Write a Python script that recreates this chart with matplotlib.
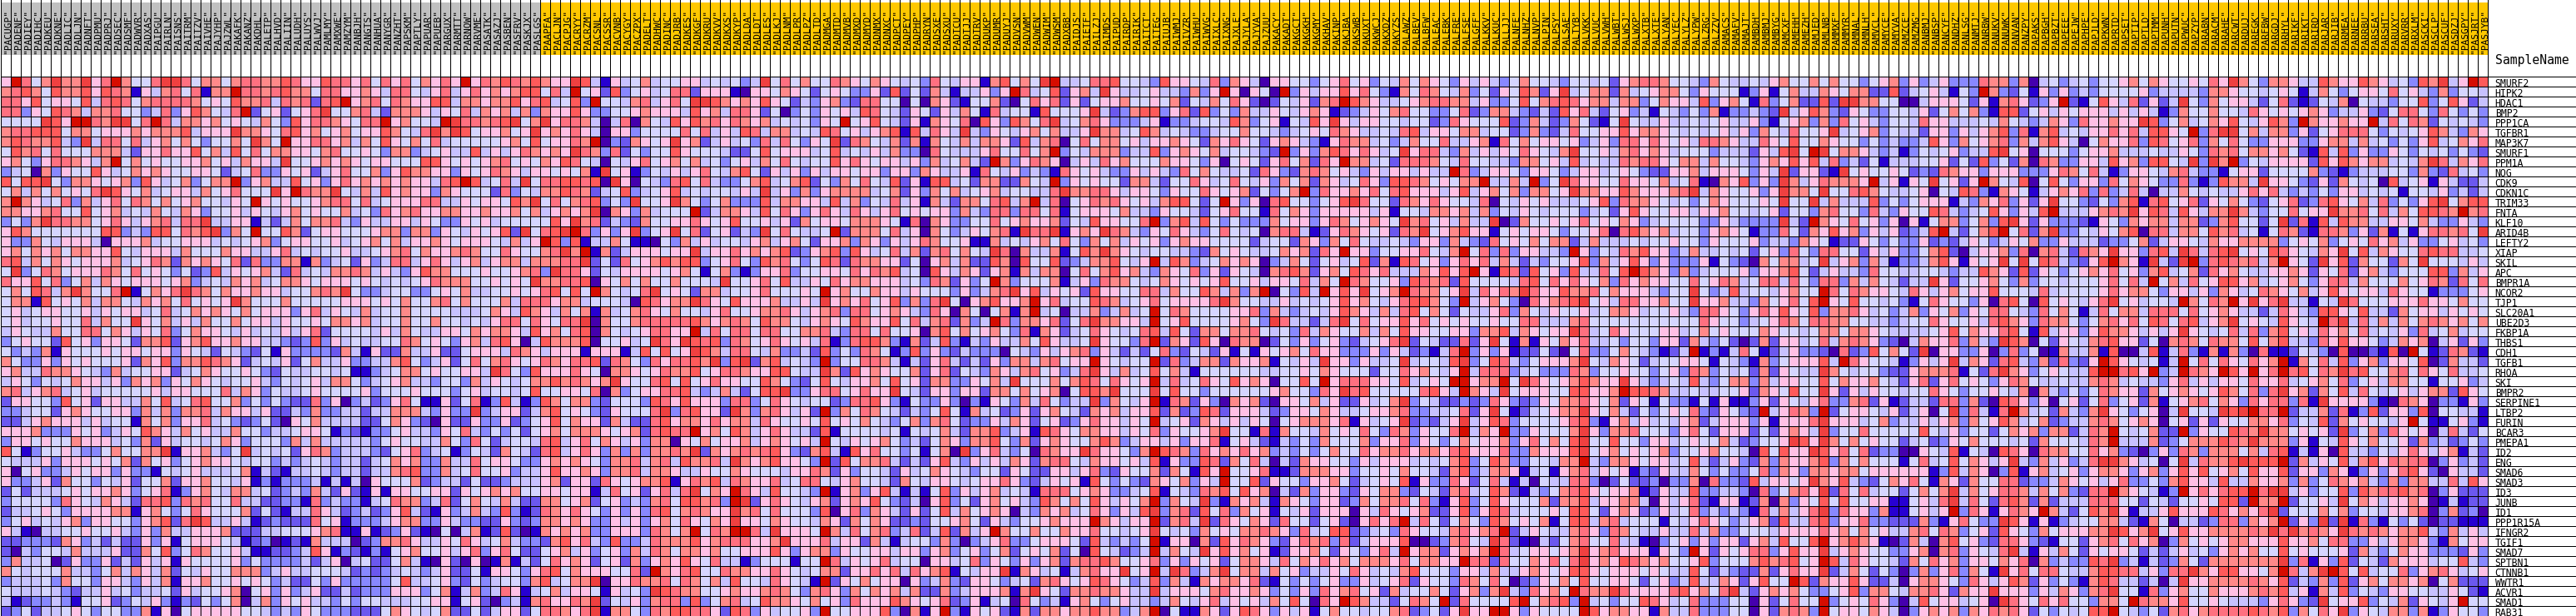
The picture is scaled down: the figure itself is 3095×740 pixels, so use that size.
import matplotlib
matplotlib.use("Agg")
import matplotlib.pyplot as plt
from matplotlib.colors import ListedColormap, BoundaryNorm
import numpy as np

# Sample names, left to right (first 54 are the grey class, the rest orange)
SAMPLES = """PACUGP PADENF PADIEY PADIHC PADKEU PADKNE PADLIC PADLJN PADNFT PADPMU PADPRJ PADSEC PADSMF PADWVR
PADXAS PAIPGU PAIRLN PAISNS PAITRM PAITZV PAIVHE PAJYHP PAJZWL PAKAFK PAKANZ PAKDHL PALETP PALHVD PALIIN PALUDH
PALUYS PALWVJ PAMLMY PAMXWE PAMZYM PANBJH PANGTS PANHUA PANYGR PANZHT PAPSKM PAPTLY PAPUAR PAPUEB PARGUX PARMTT
PARNOW PARVME PASATK PASAZJ PASBEN PASFRV PASKJX PASLGS PAAPFA PACLJN PACPJG PACRYY PACRZM PACSNL PACSSR PACVNB
PACYGY PACZPX PADELT PADHWC PADINC PADJRB PADKES PADKGF PADKRU PADKVV PADKXS PADKYP PADLDA PADLDT PADLES PADLKJ
PADLNM PADLPR PADLPZ PADLTD PADMGA PADMTD PADMVB PADMXD PADMYD PADNMX PADNXC PADPCT PADPEY PADPHP PADRYN PADSXE
PADSXU PADTCU PADTJJ PADTRV PADUKP PADUMR PADUYJ PADVSN PADVWM PADWEN PADWIM PADWSM PADXBB PAIDJS PAIETF PAILZJ
PAIMDS PAIPUD PAIRDP PAIRIK PAITCT PAITEG PAIUJB PAIWMJ PAIVZR PAIWHU PAIWVG PAIXLC PAIXNG PAJXLE PAJYLA PAJYVA
PAJZUU PAKACY PAKADT PAKGCT PAKGKH PAKGMY PAKHAV PAKINP PAKJBA PAKSWB PAKUXT PAKWCJ PAKXDZ PAKYZS PALAWZ PALBEV
PALBFW PALEAC PALEBK PALFRE PALFSE PALGFF PALKKV PALKUC PALLJJ PALNFE PALNHZ PALNVP PALPIN PALPSY PALSAE PALTYB
PALVKK PALVUC PALVWH PALWBT PALWSJ PALWXP PALXTB PALXTE PALYAN PALYEC PALYLZ PALYPW PALZRG PALZZV PAMACS PAMAFV
PAMAJT PAMBDH PAMBMJ PAMBYG PAMCXF PAMEHH PAMEZH PAMJED PAMLNB PAMMXF PAMMYR PAMNAL PAMNLH PAMVCL PAMYCE PAMYVA
PAMZCE PAMZMG PANBMJ PANBSP PANCYF PANDHZ PANLSG PANMTJ PANRBW PANUKV PANUWK PANVAN PANZPY PAPAKS PAPBGH PAPBZT
PAPEEE PAPEJW PAPHPE PAPJLD PAPKWN PAPRTD PAPSET PAPTIP PAPTLD PAPTMM PAPUNH PAPUTN PAPWUC PAPZYP PARABN PARACM
PARAHE PARCWT PARDUJ PAREGK PARFBW PARGDJ PARHYL PARIKF PARIKT PARIRD PARJAR PARJIB PARMEA PARNEE PARRBU PARSEA
PARSHT PARUXY PARVRR PARXLM PASCKI PASCLP PASCUF PASDZJ PASGPY PASJRT PASJYB""".split()
N_GREY = 54

GENES = """SMURF2 HIPK2 HDAC1 BMP2 PPP1CA TGFBR1 MAP3K7 SMURF1 PPM1A NOG CDK9 CDKN1C TRIM33 FNTA KLF10 ARID4B LEFTY2
XIAP SKIL APC BMPR1A NCOR2 TJP1 SLC20A1 UBE2D3 FKBP1A THBS1 CDH1 TGFB1 RHOA SKI BMPR2 SERPINE1 LTBP2 FURIN BCAR3
PMEPA1 ID2 ENG SMAD6 SMAD3 ID3 JUNB ID1 PPP1R15A IFNGR2 TGIF1 SMAD7 SPTBN1 CTNNB1 WWTR1 ACVR1 SMAD1 RAB31""".split()

# Colour classes, deep blue (0) to deep red (b)
LEVEL_COLORS = ["#4500AD", "#2700D1", "#6B58EF", "#8888FF", "#C7C1FF", "#D5D5FF",
                "#FFC0E5", "#FF8989", "#FF7080", "#FF5A5A", "#EF4040", "#D60C00"]

# Cell classes, estimated by eye from zoomed crops: one line per gene,
# one block per stretch of columns (widths in BLOCK_WIDTHS)
BLOCK_WIDTHS = [33, 34, 33, 34, 33, 33, 33, 16]

CELLS_A = """6b857a77a68b7558aa857757887798669
78975977969871647858177b887897758
886956659489857888875659778487828
88365987477855348369754 8b2562568a
5555a96bb87aa58b847767565475 39688
788999577566676777946 66a776589675
79877943a48858467575355 75a75b6688
597858555777426686695749585776657
675368876 47b57565566756 47664a5567
345073655964576765566524 583365624
9599a5377656739645735 77b367449563
574757565 8a96574566475685 55a6b877
7b7645837468587575675546 5b6565567
776678559567454754763556 465467565
3537a8877568646784 88a446614247577
69755555559934399587 9a375b5597256
6337546664066674556 6645456735 6655
675767577669546664755 5766446 84545
89475765666745687276 7658283377173
5a358756668758565352 39465674284 54
8669583574765666567 345476745 77656
57598 47a7558b15768a87576676645578
5771956574775476758565 6a755575555
564566556465664584 5767657566636 84
56455655847 55a657464755 7566465565
46544755885764658357665 4645464682
3565529563665277926796676644 32393
53437165556566566365 425432516 3333
753363656555627693779 876245462574
674487765437455662457 6556532544 55
46535457664637673657654 5564354564
784678456455555646655 584763544565
266553956266447594589 5573535322 83
334552676556637473778 47664622 4373
224676664645517573668 4532352065 74
666733365634659764756 4475534456 65
36656557666453726455 457635553 7474
95135564335755 77a1667435a45452687
5444636665657275635676 6545534 3454
605633465663633154564 445714214454
63346275535462557266 755461313 3341
252444565667635681367 5477452343 74
35555386547642889387 855844223 3183
2445653666677167535865 557252144 86
3564546736655367928a9446 412322285
641044556556436374466 6722244 55567
22333276342422636156 66541230121 74
204355474446227593587 55641122 3496
37445026336242646165 555635333 3424
7545557443574764725465 5777346 4455
3444537553664364716 675565653422 53
54445432446453445264 55670563634 62
41233431556235463132 535704736 5644
235244565355337160566 6665543 43653""".split("\n")

CELLS_B = """8868586857686b68798797 66a94 1 64 5 7 4 5
86676 4885 46846867 67 99 5 8 4 b 5 6 2 9 3 5 6 4 5
9b67 8587 66 99 47767 79 68 9 4 5 9 3 b 5 5 4 7 8 4 6
5578 4 2 7 7 7 6 4 6 5 8 4 7 6 7 4 7 3 7 6 6 9 6 3 3 5 5 6 7 6 6
7 6 5 8 8 b 6 7 5 5 4 b a 8 8 7 8 9 a 5 7 a 6 8 8 7 4 0 4 8 0 7 5 4
6 7 5 6 6 9 7 5 4 8 a 7 a 9 5 6 6 7 5 6 a 6 7 6 8 6 4 0 6 6 3 5 5 5
6 7 4 7 5 9 6 5 7 5 8 4 5 5 5 5 5 6 7 5 9 5 6 6 8 7 b 0 3 2 7 6 5 6
8 5 5 6 5 3 7 7 3 4 5 6 4 4 9 4 6 4 6 8 7 6 7 6 a 8 7 3 8 2 5 3 5 5
6 7 6 5 6 6 5 5 5 9 9 6 5 6 5 6 7 8 5 6 5 7 6 9 8 5 4 0 5 4 6 8 5 6
6 8 5 5 7 3 6 9 7 7 6 6 3 6 5 6 8 7 6 4 6 6 5 6 5 7 1 a 5 6 1 3 5 4
6 8 6 7 6 7 6 7 6 6 4 8 9 b 9 4 5 8 4 a 5 8 8 9 9 8 9 0 a 6 0 5 4 3
a 5 4 7 4 9 6 7 6 6 3 7 6 5 5 5 2 8 3 5 4 7 7 9 8 7 2 4 5 9 3 4 5 6
8 8 5 8 4 5 6 6 6 8 8 4 4 6 5 6 6 5 9 7 a 5 8 5 7 8 9 3 5 3 a 5 5 6
5 7 4 5 3 8 6 7 8 6 6 7 7 6 6 7 6 6 7 5 7 4 6 7 6 7 a 0 7 6 3 7 4 5
8 4 3 6 4 4 6 6 4 6 5 3 3 6 5 6 4 5 5 5 5 5 9 6 a 7 8 2 4 3 2 7 5 5
6 5 5 5 6 7 7 3 7 7 3 6 5 4 6 5 6 9 2 a 5 8 9 a b 8 3 6 3 6 a 3 5 6
6 4 5 6 7 5 7 4 6 6 7 6 5 6 6 6 5 4 7 4 6 b 9 3 9 1 4 4 7 5 1 1 0 5
5 6 4 4 5 6 7 8 5 7 6 6 7 8 7 5 5 8 6 5 5 7 8 a 7 b 1 7 2 4 6 6 6 5
4 5 2 6 3 4 8 8 4 6 8 6 4 6 7 4 6 7 7 4 7 7 7 8 8 a 2 5 2 8 5 6 7 9
7 7 8 7 4 6 4 3 6 9 7 7 5 5 5 6 5 5 6 7 8 3 a 8 8 6 2 5 4 6 6 6 6 5
6 6 5 6 5 4 5 4 5 6 8 7 7 7 5 5 6 5 6 5 a 7 7 8 8 9 0 6 5 7 5 7 5 5
7 a 5 3 3 4 5 5 3 3 5 6 5 7 4 4 5 5 6 5 6 8 9 5 9 5 b 7 5 4 5 8 a 5
5 6 6 6 5 6 5 7 5 5 7 8 5 7 5 5 5 7 4 8 8 8 6 7 7 4 5 5 5 4 0 9 8 6
6 5 4 7 4 5 5 7 5 5 5 5 4 4 4 5 7 6 4 9 7 6 4 7 5 7 1 7 4 5 7 8 6 5
7 7 6 7 4 5 5 7 5 5 7 5 5 4 5 4 6 8 8 5 8 6 5 8 8 a 0 7 5 5 7 8 8 8
5 5 5 5 4 6 4 7 5 4 4 6 6 5 7 6 7 7 6 4 9 6 7 5 8 9 0 7 5 4 5 6 8 8
6 4 5 4 4 5 5 8 7 5 6 5 3 6 7 4 8 9 6 0 4 9 7 7 7 9 0 5 5 6 4 5 a 8
2 7 4 1 6 2 2 7 4 4 6 2 2 5 6 6 6 4 8 7 6 4 6 6 6 1 6 6 6 1 4 9 5 9
4 6 3 3 4 4 7 9 5 3 4 6 2 5 8 5 7 8 6 5 6 8 7 6 8 8 9 2 8 7 5 3 8 6
4 5 1 1 3 4 5 7 7 5 6 5 5 6 6 4 a 8 5 3 9 6 6 6 8 6 5 0 7 7 6 5 6 8
7 7 5 3 4 5 6 7 4 4 3 5 5 3 7 4 6 5 4 5 7 7 9 7 8 7 6 7 a 6 5 5 8 9
5 5 5 6 3 5 5 5 6 5 5 5 3 5 6 4 5 5 4 5 9 5 5 6 6 5 8 0 7 3 5 6 6 8
6 0 3 4 2 3 6 8 5 1 1 6 2 5 8 1 3 9 4 1 3 9 7 5 7 7 3 2 5 5 5 3 9 8
3 4 4 2 4 4 7 7 7 4 3 6 3 3 a 3 4 6 6 2 4 7 9 5 6 5 3 2 6 5 5 5 8 a
4 4 4 2 2 5 7 6 3 2 0 6 2 2 6 3 3 6 2 3 5 6 9 5 7 6 6 2 7 4 2 2 8 9
1 3 2 1 3 3 5 6 4 4 3 6 5 8 4 3 5 3 5 2 5 6 7 5 7 7 7 6 5 6 7 2 8 9
4 4 4 4 3 5 6 5 5 4 4 7 5 3 8 5 2 4 5 5 4 8 9 4 6 8 5 7 6 4 6 3 7 7
3 4 4 4 3 2 5 6 8 3 4 5 1 3 5 4 2 7 5 4 2 8 9 4 6 8 6 3 7 3 7 3 7 7
3 4 4 2 4 5 7 6 7 3 3 7 4 4 8 5 6 6 5 3 3 6 7 6 7 6 5 3 7 7 8 4 7 8
3 4 4 2 4 4 7 8 9 3 3 7 4 5 8 5 5 6 3 4 4 6 9 6 6 7 6 3 7 7 8 4 7 7
4 1 4 0 6 5 5 5 7 2 3 4 4 2 5 2 2 3 4 4 4 6 7 2 6 6 2 8 6 5 6 7 7 9
2 6 2 1 6 1 6 6 5 5 6 6 2 6 5 6 7 6 7 5 5 6 6 5 6 6 1 4 8 5 6 2 6 8
4 3 3 1 4 5 8 7 7 3 4 8 2 5 7 5 4 7 4 2 2 7 7 5 6 7 2 5 6 3 4 3 7 8
4 2 3 4 2 3 6 9 4 2 1 6 3 4 7 4 3 9 3 1 2 8 7 6 8 6 5 3 6 3 6 3 8 9
6 1 3 3 3 4 6 7 7 3 3 6 4 3 3 2 2 6 3 2 3 7 7 6 7 6 3 3 6 4 6 3 6 7
8 1 1 6 1 2 3 6 2 1 0 5 0 4 7 1 2 9 2 0 1 7 6 7 6 7 3 3 6 6 6 3 8 7
4 4 0 2 3 7 7 8 6 4 4 6 5 8 6 4 5 7 4 3 3 2 7 9 6 8 4 3 9 3 3 4 8 7
1 3 2 1 3 1 5 6 7 5 5 6 4 6 8 3 6 8 5 2 2 5 6 7 4 6 3 5 6 3 7 4 8 7
6 0 4 5 2 2 5 7 4 1 0 6 2 0 6 0 1 7 1 4 2 5 8 6 7 6 2 5 6 2 7 3 6 7
5 4 2 3 2 3 4 5 4 3 4 6 2 2 5 1 6 6 5 3 6 8 9 5 7 6 6 6 5 5 8 2 b 7
6 3 3 3 3 3 5 9 4 4 5 6 3 2 5 3 4 5 5 3 7 9 4 5 7 7 a 0 6 6 8 7 7 8
2 4 2 3 3 3 6 6 6 3 5 7 1 4 7 3 4 8 6 1 4 5 7 4 6 6 5 1 6 4 5 3 a 9
3 5 3 5 5 4 4 4 5 5 6 6 1 5 6 2 0 3 4 1 7 8 6 6 8 7 a 2 5 4 6 3 7 8
3 3 2 2 2 5 7 6 5 4 5 7 2 2 5 2 4 6 6 2 5 8 8 7 6 8 a 1 7 7 5 3 8 7""".split("\n")

CELLS_C = """566454 5 3 4 a 5 8 5 7 5 5 8 7 6 5 7 6 5 4 5 3 8 5 4 6 6 1 7
8 8 2 6 6 6 1 0 6 6 5 7 6 5 2 5 6 5 3 3 6 2 9 2 5 2 7 4 1 4 4 6 3
8 5 a a 9 7 6 7 6 9 6 5 2 4 3 6 7 3 2 8 8 5 5 0 5 0 7 6 2 1 5 5 7
6 4 9 6 7 4 8 8 6 2 5 0 3 5 3 6 5 6 4 9 8 5 4 2 6 5 2 6 4 7 5 1 8
9 6 9 7 8 6 8 7 6 7 4 5 4 5 3 6 5 b 5 6 9 5 4 2 6 1 7 6 5 8 0 9 6
5 8 5 8 4 6 4 9 8 4 7 7 4 5 4 9 8 5 6 4 6 7 9 1 9 4 8 6 4 a 4 3 6
a 6 7 2 4 6 4 5 3 8 4 8 5 3 6 5 a 2 8 7 5 4 7 2 7 1 7 5 4 7 4 7 7
9 6 5 5 5 4 2 2 5 9 5 6 6 6 4 5 9 4 5 4 6 4 7 3 3 0 8 5 4 4 4 6 8
7 5 7 4 5 3 5 6 4 7 5 8 5 4 5 5 9 6 8 6 5 6 6 4 6 3 7 4 5 7 4 2 b
6 4 6 8 5 4 7 9 5 2 6 4 6 3 6 4 6 6 5 6 6 3 6 6 3 7 6 4 4 6 1 8 5
8 9 5 8 4 3 3 5 7 9 4 5 7 9 2 5 3 7 5 8 5 4 9 2 6 1 9 9 4 5 2 7 7
9 4 5 4 5 5 4 6 4 a 4 6 3 7 3 6 7 7 7 7 4 5 7 2 6 3 7 5 7 4 5 6 7
a 7 5 3 5 7 3 3 3 9 4 7 7 6 6 4 9 4 7 3 5 4 8 4 6 1 7 4 2 7 7 5 8
5 5 b 2 4 7 7 6 4 9 5 8 6 3 6 8 6 4 8 6 4 6 8 5 6 5 6 6 3 7 4 3 8
6 6 8 6 5 6 9 5 5 6 4 6 2 7 5 6 6 5 7 7 7 6 5 1 8 0 7 6 3 3 5 5 8
a 5 8 2 5 6 2 4 3 a 5 8 5 4 4 5 b 2 7 7 7 5 8 4 6 0 7 5 3 4 6 5 7
3 7 4 6 4 5 5 4 6 7 4 6 7 5 2 6 6 7 3 7 6 3 6 4 6 8 7 5 5 6 1 1 7
6 6 a 4 6 6 8 6 7 6 7 9 2 3 6 7 9 3 9 6 4 5 8 4 7 2 7 8 5 7 5 4 a
7 9 9 3 5 6 8 5 3 9 7 8 5 3 5 9 8 2 8 7 7 6 6 2 5 0 6 7 4 7 2 2 9
6 7 5 1 5 7 3 1 3 6 6 8 3 5 5 6 6 5 8 6 8 7 9 4 5 0 9 6 4 7 6 2 6
7 5 5 5 4 a 5 5 6 8 5 9 4 4 6 5 8 6 7 7 6 6 6 4 5 3 8 7 2 6 3 5 b
6 5 2 7 7 4 5 5 6 8 5 5 5 6 5 b 6 7 5 5 7 6 6 4 6 5 5 5 3 6 3 4 7
7 7 a 8 6 5 9 6 6 6 7 4 4 6 4 a 6 7 6 8 5 6 9 3 7 3 8 a 5 0 6 7 9
7 5 5 4 6 8 5 5 6 7 7 8 6 4 6 7 8 3 8 8 5 6 7 6 4 3 8 6 0 7 5 0 5
8 8 9 7 6 7 8 7 5 9 7 7 5 4 6 7 6 5 9 7 6 6 9 5 8 4 7 8 2 7 3 4 b
6 6 b 4 8 5 8 8 5 8 8 5 5 7 7 8 4 3 8 8 5 8 5 5 6 0 7 9 5 7 5 6 7
6 a 9 8 9 3 8 7 5 6 8 6 5 6 4 8 1 3 8 9 9 7 3 1 7 2 4 9 3 1 4 3 6
5 6 a 9 7 4 8 8 5 4 7 3 3 4 2 9 3 5 3 8 7 5 1 3 9 3 6 3 2 4 3 3 3
8 8 9 7 a 3 9 a 2 7 9 4 5 4 3 b 3 5 5 8 8 7 4 1 4 2 6 8 4 2 4 2 6
7 7 9 5 6 8 8 7 6 6 9 9 5 4 4 a 7 2 9 6 7 6 5 5 7 2 6 8 2 5 4 3 7
5 9 5 6 8 6 6 5 5 9 7 5 3 2 5 9 5 4 6 6 7 5 9 5 6 2 7 7 3 3 6 5 7
8 9 4 3 4 7 4 2 5 9 9 a 3 3 6 8 8 5 6 8 6 6 a 5 4 2 6 6 3 6 6 2 7
6 9 6 6 6 3 8 8 3 5 8 6 5 4 5 5 2 3 8 8 9 6 3 1 5 3 3 6 3 0 3 1 6
3 8 9 6 6 2 a 7 3 7 8 6 4 6 2 b 3 7 5 8 7 5 4 2 4 3 5 9 5 1 7 4 5
6 7 7 6 8 6 7 7 4 8 6 5 5 6 5 9 5 6 5 7 5 4 3 5 7 3 7 8 5 2 3 3 6
8 8 b 6 7 5 9 7 4 6 8 6 4 4 2 9 1 5 5 5 5 4 5 1 5 4 5 7 4 2 7 7 9
0 6 5 7 5 6 6 7 4 6 7 6 5 6 4 b 5 4 6 5 6 7 5 3 4 2 5 7 6 3 7 7 9
8 7 a 2 7 6 7 8 7 8 9 6 3 2 7 9 4 1 9 6 8 5 5 3 5 1 5 7 0 a 3 6 8
4 9 7 7 8 4 a 7 6 7 9 6 6 5 3 b 2 9 5 7 7 8 4 2 4 2 6 9 4 3 6 4 6
6 4 4 6 5 5 7 6 5 5 5 4 6 6 8 7 2 6 3 5 5 4 2 6 4 5 7 6 5 4 3 5 5
1 6 8 7 9 4 8 7 6 6 8 4 5 8 8 5 4 6 7 5 5 4 2 7 5 4 6 6 5 4 5 6 6
4 8 a 5 7 6 b 8 6 4 9 5 5 4 3 b 1 6 7 3 6 9 4 1 4 1 5 9 3 6 4 6 7
5 9 9 7 8 3 b a 2 6 8 6 5 4 6 7 2 6 7 6 9 5 3 2 4 0 6 9 3 5 2 6 7
5 7 8 7 6 6 a 7 8 5 8 5 5 5 3 9 0 6 8 3 7 6 4 2 6 2 5 9 4 7 5 6 7
5 8 6 5 7 6 a 6 6 5 7 6 5 5 4 7 6 2 7 5 7 6 2 2 3 2 5 5 6 7 5 2 6
5 7 b 5 8 7 b b 8 4 a 6 6 6 5 b 7 4 8 5 7 8 3 4 8 2 4 9 2 7 4 6 b
7 7 9 6 7 8 8 8 6 6 7 a 6 6 6 8 4 6 6 2 7 4 1 4 5 5 3 7 3 0 3 4 6
5 7 7 6 7 5 5 6 6 6 9 6 3 6 7 7 3 6 5 5 6 6 4 6 6 3 6 7 3 5 6 3 5
6 9 6 5 8 4 4 1 3 5 5 5 1 5 5 b 8 4 6 5 6 8 4 5 5 0 6 6 4 5 8 3 6
6 8 9 5 5 8 7 7 6 6 8 6 5 4 5 7 7 2 6 6 8 6 8 4 8 6 7 9 1 5 4 6 6
5 8 7 5 7 4 9 5 5 4 8 6 5 4 1 b 2 6 5 7 5 6 6 0 6 3 4 7 3 2 6 6 5
8 7 7 5 5 6 7 6 6 7 8 7 5 3 7 8 6 3 7 5 7 6 7 4 7 2 2 7 3 4 6 6 6
8 3 9 3 5 7 8 4 5 9 7 7 6 5 7 5 6 3 8 6 6 6 9 7 6 5 6 8 2 3 6 1 4
9 9 8 8 6 2 9 8 3 6 4 5 5 6 3 b 5 5 6 6 6 9 3 0 7 1 6 b 3 1 6 5 6""".split("\n")

CELLS_D = """9 5 7 5 a b 4 4 5 8 8 9 5 5 4 3 9 6 6 5 4 8 3 7 6 4 0 6 6 5 5 3 5 6
6 b 8 4 5 9 2 6 7 4 a 6 4 4 5 6 4 4 3 7 3 6 b 6 0 6 5 0 b 3 6 4 6 6
2 0 5 8 6 8 2 6 2 5 6 6 7 5 5 6 5 7 2 5 4 7 5 8 6 2 0 2 5 4 6 2 7 8
4 5 5 1 9 5 5 5 6 a 4 2 3 7 9 9 3 6 8 2 9 3 5 3 7 4 4 6 5 4 6 7 6 1
3 9 7 5 8 a 4 5 7 8 6 3 3 3 4 6 1 3 3 4 5 5 4 9 7 3 5 6 1 5 4 9 6 a
5 4 6 7 5 7 4 4 6 a 7 7 4 5 9 7 4 5 4 3 3 4 5 5 7 5 5 4 3 4 5 6 5 8
6 2 9 4 7 8 0 5 8 5 7 7 5 6 4 6 6 7 6 5 2 7 6 8 6 5 2 6 7 6 4 3 1 6
5 5 8 5 7 b 3 5 4 7 7 7 3 4 4 9 3 6 7 6 5 7 4 5 5 4 3 2 b 3 6 3 7 9
7 3 6 8 7 6 0 4 6 4 8 6 7 5 5 5 7 6 6 5 3 6 0 5 6 5 2 6 8 5 7 2 8 6
4 6 3 4 3 1 8 6 5 6 4 3 3 6 4 6 4 3 8 5 7 5 4 4 5 2 8 6 3 2 7 8 7 5
2 2 7 5 4 b 3 6 5 6 5 5 2 7 7 4 2 5 5 8 6 4 5 8 5 4 6 3 7 5 7 2 7 6
4 5 5 4 4 8 a 7 7 8 8 6 4 6 6 5 3 6 5 5 8 6 5 6 7 2 5 3 5 7 b 3 8 6
9 4 7 b 4 8 0 5 6 8 7 8 6 5 6 4 7 9 9 5 2 5 b 6 3 6 0 8 9 5 5 3 5 6
8 3 8 8 5 8 1 5 6 6 6 5 7 4 4 3 6 5 5 4 2 5 6 8 5 5 1 8 5 7 6 3 6 6
5 6 7 6 6 7 2 5 4 9 6 6 5 5 8 b 3 7 9 4 9 5 3 5 3 3 3 7 5 6 6 3 6 8
8 1 a 8 8 a 1 6 7 6 a 8 7 4 3 6 5 8 6 4 3 5 8 5 4 5 0 7 8 8 4 1 2 6
4 5 4 6 7 5 8 5 3 7 5 7 4 6 5 6 3 6 7 6 6 5 5 5 5 2 4 5 5 2 7 6 3 7
8 0 7 4 4 7 1 5 9 7 a 7 6 5 4 5 5 4 4 3 2 7 5 6 5 4 4 5 7 6 7 2 8 6
7 0 9 5 5 9 2 3 4 7 7 9 5 4 6 b 4 9 7 3 4 5 7 6 7 6 0 3 4 7 5 2 5 6
7 1 7 4 7 7 0 5 8 5 7 9 6 7 4 3 7 6 5 8 3 6 2 6 5 4 0 7 8 9 7 2 6 7
7 3 5 5 5 7 1 4 6 3 8 7 7 5 4 5 7 6 5 6 5 6 9 5 5 6 4 6 6 5 8 4 7 5
8 a 6 9 4 6 5 6 2 9 6 6 5 5 8 8 4 7 5 5 9 7 4 7 3 7 b 0 5 3 9 4 b 6
6 6 7 b 6 8 4 5 5 9 8 7 4 5 6 8 5 6 6 6 6 8 a 7 5 5 4 4 6 4 5 4 5 6
7 1 7 b 4 5 0 4 4 7 3 4 7 4 5 b 5 8 7 5 5 5 5 6 6 8 3 7 4 3 4 5 4 6
8 3 7 7 6 8 2 5 8 a 7 7 6 6 4 b 5 6 9 5 5 5 5 6 7 5 3 a 8 4 4 2 4 8
5 3 8 1 7 6 2 4 5 8 6 5 4 5 8 9 4 9 5 2 7 7 5 7 7 8 5 4 5 3 8 4 7 6
4 4 7 5 9 6 4 4 5 a 6 5 5 3 8 b 2 7 6 2 9 6 0 8 7 7 0 2 5 3 6 3 5 6
0 5 4 3 6 4 6 7 8 3 6 4 2 4 2 5 8 3 2 5 4 2 6 1 5 1 6 5 6 7 5 8 6 6
3 7 7 4 7 8 5 6 6 b 6 5 4 5 5 b 2 8 3 4 7 7 2 7 6 6 7 1 5 4 6 4 a 6
6 4 7 8 5 6 3 4 8 a 6 4 7 4 5 9 5 7 4 1 5 5 5 5 5 5 4 4 5 5 6 5 7 6
4 a 5 5 5 7 5 7 9 8 5 8 6 5 6 b 4 8 4 5 8 6 5 9 6 7 6 0 5 5 9 5 b 6
7 5 7 5 6 7 0 5 9 9 7 a 5 5 5 a 5 9 5 5 3 5 5 5 5 5 5 6 7 5 5 3 8 6
5 3 7 4 8 5 3 4 4 a 3 7 5 4 6 b 1 8 7 2 6 3 0 7 6 7 2 0 6 6 5 7 4 6
2 3 6 2 6 7 5 4 2 7 6 7 4 6 6 9 2 7 2 3 9 8 2 6 6 6 4 2 3 6 6 5 7 6
4 7 6 2 5 6 2 3 6 8 6 6 4 6 5 b 4 5 6 2 7 6 4 6 4 6 5 0 5 6 7 7 7 6
3 4 6 1 9 8 6 5 7 7 6 6 4 6 5 8 3 6 5 5 6 7 a 5 5 1 8 1 7 5 5 4 7 5
5 3 7 2 6 7 6 5 5 7 9 7 3 4 6 6 4 6 3 6 6 8 1 5 6 4 2 1 4 3 5 3 7 5
4 3 5 0 8 7 6 6 a 8 6 6 5 3 7 b 9 8 7 3 8 6 7 6 8 6 7 3 4 3 5 3 5 7
4 7 6 2 7 8 8 5 4 7 6 6 5 6 4 9 1 6 3 3 9 8 2 7 5 8 4 0 4 2 7 6 6 5
2 6 5 2 2 6 6 4 6 8 3 2 6 5 5 7 2 7 5 1 9 6 b 5 5 6 8 1 1 2 7 7 7 6
8 6 3 2 4 6 5 6 1 9 5 3 5 3 2 7 6 5 7 3 6 4 b 5 5 9 2 6 5 5 3 6 6 7
4 5 4 1 8 8 8 5 6 7 6 3 3 4 5 9 1 5 4 3 8 7 9 5 9 6 7 0 4 2 7 3 6 6
5 6 4 3 9 7 5 7 5 9 6 4 6 5 7 b 3 7 5 4 a 3 1 7 6 7 4 1 7 6 5 3 6 6
6 0 4 3 7 6 7 4 5 8 6 3 6 4 9 a 3 7 8 2 9 5 8 3 7 5 6 1 5 4 6 2 6 6
4 3 5 5 6 7 6 6 6 b 7 6 4 6 6 b 2 7 8 4 a 2 8 6 5 7 6 2 8 5 5 2 5 6
7 5 5 7 5 5 7 6 6 8 5 5 4 5 6 a 5 4 5 3 7 5 6 5 7 7 8 7 6 3 8 4 5 9
8 3 3 5 6 6 6 5 2 9 4 3 4 3 5 b 1 6 6 0 7 2 9 6 8 7 6 3 2 6 8 7 8 3
7 2 5 6 5 7 2 5 0 9 5 4 2 3 4 b 4 7 5 4 a 6 9 6 7 5 6 1 2 6 6 7 5 2
5 3 6 3 6 7 2 7 8 8 9 7 5 5 6 8 3 6 3 6 5 6 2 5 7 7 6 4 8 5 7 6 8 6
a 1 7 6 4 5 1 4 7 8 6 6 a 5 6 b 4 a 8 3 4 7 a 5 7 7 4 7 5 6 3 4 4 6
3 4 5 2 7 8 6 5 6 9 8 6 5 3 4 9 3 7 4 1 7 6 7 7 6 8 2 1 5 3 5 3 5 6
7 1 7 a 6 5 2 7 7 8 7 7 6 4 4 a 4 6 6 6 5 7 8 6 6 7 6 3 5 3 6 3 8 6
5 0 8 5 3 4 1 6 7 5 3 5 6 4 4 3 4 7 5 4 6 8 4 6 5 6 4 7 5 9 5 0 8 6
2 1 7 2 7 7 6 7 7 9 7 7 3 4 7 b 0 5 1 1 7 6 2 6 9 8 6 3 6 4 6 1 5 7""".split("\n")

CELLS_E = """8 5 6 3 5 4 7 5 7 6 5 3 6 4 6 4 3 5 7 5 5 4 3 5 5 4 5 2 6 7 8 8 7
9 6 8 5 3 1 7 5 8 7 5 4 7 3 5 2 6 5 9 7 2 6 a 4 5 7 7 2 7 4 5 6 7
b 9 7 6 4 4 5 6 7 8 8 7 7 4 6 3 3 5 9 5 7 8 9 8 6 7 7 4 7 7 3 5 7
2 3 4 6 5 7 8 5 5 3 3 5 8 2 3 7 7 4 3 2 4 2 9 6 8 4 2 5 6 3 4 1 5
6 4 6 6 5 5 4 5 5 2 3 8 6 5 5 5 9 2 3 7 4 2 3 7 5 2 1 5 a 5 4 4 6
7 6 4 4 5 4 8 9 4 6 6 5 7 7 4 5 5 2 3 7 3 2 4 8 5 5 6 6 9 6 7 7 6
8 7 7 4 5 3 4 7 5 5 8 4 4 6 7 1 8 5 7 5 6 6 5 6 3 4 6 3 8 8 6 8 6
8 6 8 6 4 5 a 6 8 8 4 3 7 4 6 4 6 5 8 6 5 4 7 a 5 5 6 4 7 8 6 7 6
b 7 7 4 5 2 8 8 8 7 5 4 8 5 5 4 4 3 7 7 5 6 4 9 4 5 4 4 8 7 8 8 6
6 4 3 6 4 6 6 4 6 4 4 b 8 3 4 6 6 5 3 6 6 5 3 4 6 6 4 5 6 5 3 2 2
4 5 8 6 3 9 9 8 7 5 6 5 7 7 b 4 4 7 4 b 3 5 a 8 6 6 5 5 8 6 6 5 7
6 7 6 8 5 8 9 6 6 6 4 6 9 4 6 7 5 7 3 7 7 5 6 a 7 7 6 6 9 7 6 6 6
9 a 8 5 5 2 8 7 6 8 6 5 5 4 8 0 5 4 6 5 6 4 4 4 5 6 9 3 8 7 7 6 5
6 6 6 4 6 1 5 5 4 7 7 6 7 4 7 3 5 4 6 5 4 5 5 5 3 4 5 2 6 9 6 5 5
7 5 6 7 6 5 a 7 8 5 6 4 7 4 4 a 0 2 7 5 5 6 5 6 8 5 6 5 7 6 3 4 5
8 7 6 5 6 2 8 7 a 5 6 7 9 6 6 1 5 6 5 6 6 5 3 5 5 6 8 0 8 9 7 6 7
5 8 5 4 4 5 4 3 6 6 3 7 4 3 2 8 5 6 5 7 5 7 7 2 4 7 4 4 4 5 4 5 5
b 6 6 3 5 5 6 6 8 5 4 7 b 5 8 3 8 3 6 6 4 4 3 b 6 3 5 4 8 7 9 6 6
4 5 9 2 7 1 9 8 5 6 3 6 8 6 8 4 7 4 2 4 3 5 5 6 9 3 7 4 6 9 6 3 6
5 9 8 6 8 4 4 4 7 6 9 6 9 b 6 1 9 8 2 9 5 6 3 9 4 4 8 5 9 b 9 7 6
b 8 7 5 5 6 3 9 8 7 8 2 9 5 5 5 5 4 8 9 5 8 6 8 6 5 7 3 8 6 7 6 6
9 6 a 5 6 7 b 8 7 7 5 6 a 4 8 6 8 7 a 8 6 6 9 7 7 8 5 7 6 6 6 4 3
9 6 7 5 4 6 8 9 9 7 5 3 b 4 6 7 5 3 0 8 6 7 8 9 a 5 6 4 8 8 6 6 7
9 7 6 4 7 4 8 9 5 7 5 2 5 4 4 6 8 3 7 5 4 6 5 5 6 4 5 7 7 6 4 5 5
a 5 8 5 6 6 9 6 8 5 6 5 6 5 5 6 5 5 8 8 4 4 4 7 8 5 5 5 5 5 5 5 5
5 5 7 4 7 5 9 6 6 5 5 6 6 3 7 7 9 4 7 6 5 6 6 a 8 4 5 8 6 5 5 5 6
3 2 4 5 6 8 a 2 5 4 2 2 8 2 6 a 5 1 7 1 6 5 7 6 8 4 4 5 3 5 5 3 6
3 3 3 6 3 6 4 2 3 1 4 8 b 3 6 3 6 1 2 2 5 2 0 5 8 3 3 5 7 5 4 3 1
6 3 6 4 4 5 a 4 5 5 4 9 a 3 5 9 8 4 3 5 6 6 6 7 a 5 4 7 6 5 2 4 5
5 5 5 2 5 5 8 6 7 5 4 6 b 4 8 8 8 3 4 5 3 3 3 8 7 3 5 5 6 5 5 3 5
8 8 8 6 6 5 9 4 5 6 5 b b 6 7 7 b 5 a 8 6 5 6 7 9 7 6 6 a 6 4 3 4
a 8 9 5 5 5 5 5 8 9 6 4 b 7 6 4 a 5 6 6 6 5 5 9 9 6 6 7 b 9 9 8 7
2 2 6 4 5 7 a 3 5 4 2 2 3 2 3 8 6 3 2 3 6 5 7 7 8 6 5 7 2 6 5 1 5
4 4 5 6 6 7 8 3 3 4 4 5 8 2 6 a 5 1 2 4 5 6 7 7 a 6 5 7 4 2 5 3 5
8 1 6 4 5 6 a 2 3 2 4 6 a 4 6 9 8 3 5 5 5 5 6 8 9 3 1 6 7 4 6 4 5
6 5 8 5 3 8 7 3 6 5 5 8 b 4 7 6 b 3 3 6 5 5 5 7 a 6 3 7 7 8 5 5 5
5 5 7 3 6 6 8 3 6 5 3 5 7 5 6 6 7 3 6 8 5 7 5 9 a 5 5 9 5 5 3 6 6
5 5 8 6 7 7 8 6 7 7 6 8 9 6 6 6 8 3 3 7 6 6 6 9 a 5 6 7 5 6 5 6 7
5 3 6 4 6 6 6 4 5 4 5 7 9 3 5 9 7 3 3 5 5 4 7 7 b 4 3 7 7 6 5 6 6
6 3 5 5 6 5 7 5 5 4 2 7 9 3 4 7 7 6 1 4 5 1 6 7 8 4 6 5 6 1 3 2 6
5 2 4 5 6 5 9 1 6 3 3 8 6 2 5 8 4 1 4 0 5 4 4 8 8 3 0 2 5 2 2 3 0
3 2 6 5 7 7 3 2 5 4 2 7 8 4 5 9 7 2 1 4 3 5 7 8 9 6 5 6 6 7 1 2 6
2 3 7 5 7 7 8 5 8 3 1 6 9 3 5 9 6 5 5 5 7 2 7 7 9 4 6 6 7 7 4 0 6
6 0 6 4 8 6 5 6 7 2 2 6 9 3 6 9 8 4 5 5 5 6 5 9 9 5 2 6 7 6 2 3 6
2 0 6 8 6 8 b 4 8 5 2 5 7 5 3 9 7 5 6 5 7 1 5 9 9 4 7 8 4 5 5 5 1
9 2 3 4 5 3 8 6 5 5 4 7 8 6 7 8 b 2 4 6 5 4 4 7 8 6 3 8 7 5 4 4 6
8 2 4 6 6 6 9 0 0 2 3 7 8 5 4 a 8 2 1 0 4 2 5 7 8 5 5 8 4 4 1 0 3
6 5 3 6 8 4 b 6 7 7 2 6 7 6 7 b 8 4 5 6 6 5 6 7 a 6 7 8 6 6 6 1 6
7 5 7 7 7 6 8 5 7 7 6 6 b 8 8 2 8 5 5 7 6 8 5 8 a 6 7 6 9 8 7 6 7
5 8 6 4 5 4 7 9 5 5 5 3 6 6 4 7 4 4 6 7 6 5 6 9 9 6 5 6 6 6 5 6 5
3 3 6 4 5 6 8 2 6 5 5 3 8 7 5 8 5 0 2 3 6 5 7 5 9 5 5 6 6 5 2 5 6
7 8 5 6 2 7 4 5 5 7 5 2 6 7 3 7 a 4 3 8 6 7 5 b 8 7 7 a 8 6 6 6 6
b 9 7 4 4 2 5 8 7 5 b 2 8 5 5 5 5 9 b 5 7 8 9 3 b 4 5 3 5 5 9 8 6
5 5 4 5 5 7 8 2 3 5 2 6 a 6 6 b b 6 3 6 5 5 5 5 b 9 6 7 7 6 6 1 7""".split("\n")

CELLS_F = """5 5 4 3 7 5 4 4 5 4 6 7 5 5 7 5 7 5 5 3 5 6 7 3 6 3 4 6 3 3 3 8 7
7 5 3 6 5 5 5 1 3 6 1 5 7 4 4 7 6 5 7 7 2 2 9 2 4 5 6 4 1 5 3 b 7
6 6 4 9 3 6 7 5 1 8 3 5 7 2 2 9 2 a a 7 7 5 5 0 0 4 6 6 6 5 2 6 1
4 3 5 3 7 1 3 3 4 3 2 a 4 6 9 7 3 2 6 5 3 3 5 5 4 6 2 5 7 5 7 3 1
4 4 5 4 5 6 4 4 6 3 1 5 6 7 3 7 3 8 5 6 4 3 5 5 4 8 6 6 4 4 4 5 4
5 4 5 4 5 6 4 6 3 7 5 4 8 5 5 6 a 4 5 6 7 3 5 4 4 2 6 6 3 6 4 6 7
5 6 4 8 8 7 6 4 4 8 6 5 9 5 5 7 6 5 5 3 5 3 4 3 3 4 9 6 3 7 5 6 7
4 5 5 5 3 4 4 4 2 6 4 9 a 5 b a 5 7 7 6 4 3 4 1 3 5 4 5 6 3 4 4 9
5 7 7 4 7 5 5 4 3 6 7 6 9 6 9 4 8 3 4 2 5 1 4 4 4 5 5 6 2 5 2 9 3
6 6 7 4 6 6 6 5 3 6 4 a 2 6 6 2 1 a 5 6 5 5 6 5 2 3 2 8 7 6 6 3 6
4 5 8 1 0 7 6 9 3 6 3 a 7 4 6 8 7 7 7 6 b 4 6 1 6 5 a 5 6 2 6 b 7
7 8 a 4 7 6 5 5 6 3 6 a 7 7 5 a 5 5 8 9 7 5 4 4 5 6 0 5 4 9 8 3 1
4 5 3 5 7 6 5 5 5 6 5 a 5 5 a 4 7 4 4 4 9 3 5 3 5 6 6 6 1 4 3 7 6
6 6 4 6 6 7 5 5 4 5 6 2 5 5 3 7 8 5 5 3 8 4 3 6 5 5 9 8 4 3 4 5 9
5 5 5 3 3 6 4 3 3 3 3 a 4 2 b 7 6 5 8 5 6 3 6 0 6 1 5 7 7 3 5 7 3
4 5 5 3 6 7 6 5 1 3 3 8 5 2 7 6 9 6 7 3 6 4 6 2 3 4 9 b 4 2 5 7 9
6 5 5 3 6 5 5 5 6 3 4 4 3 7 6 5 1 2 2 6 5 3 5 3 3 6 2 3 2 4 6 5 3
3 4 7 4 4 5 4 5 2 5 6 3 8 5 3 8 8 5 5 2 6 4 6 3 3 5 7 9 2 0 4 6 6
3 3 3 6 1 5 3 2 0 7 5 7 7 4 5 a 4 6 7 3 7 4 1 3 3 4 7 9 6 1 6 5 6
3 7 3 4 5 5 5 6 3 6 6 7 9 5 2 4 6 4 4 3 8 5 5 4 4 5 5 4 3 4 4 9 7
5 5 8 5 6 8 7 4 5 8 8 4 8 5 3 8 8 3 7 4 7 5 4 2 4 4 a 6 2 5 5 6 7
5 5 a 5 3 4 9 4 5 5 4 6 7 5 5 b 8 5 8 7 6 6 5 4 8 6 4 6 7 5 6 6 9
5 5 a 6 6 7 4 4 3 7 5 6 8 5 9 b 6 5 9 5 5 4 5 3 1 5 8 6 5 5 3 6 0
6 4 3 8 8 6 5 3 6 8 6 9 6 5 9 3 7 7 8 6 4 5 3 4 7 3 6 5 7 3 6 5 8
5 5 5 8 6 5 5 3 4 5 6 8 7 5 8 8 7 7 5 5 4 4 3 4 5 5 8 6 5 5 6 4 8
6 4 5 7 5 6 5 5 5 7 6 5 5 4 5 7 7 5 7 7 6 5 4 4 4 4 5 6 9 5 7 6 6
6 2 7 4 3 5 2 0 2 7 2 6 6 4 5 8 4 7 8 7 6 3 2 0 4 7 6 6 8 3 7 4 3
2 4 b 1 3 1 4 8 5 1 2 4 6 3 3 2 0 8 2 3 9 5 7 5 2 a 0 6 6 3 3 6 0
5 6 6 5 1 5 4 3 1 7 3 5 6 6 6 9 4 b 8 6 5 5 4 1 3 6 4 6 a 4 7 6 2
6 3 8 7 3 5 4 5 2 7 2 6 5 4 4 a 7 5 4 5 5 3 2 2 6 7 7 7 8 1 5 2 8
5 4 9 4 3 5 7 7 3 7 4 6 6 5 5 9 5 7 6 6 7 5 4 2 6 8 2 6 8 5 6 5 3
4 4 5 4 4 5 5 6 2 7 6 5 9 5 5 a 6 2 6 4 6 5 5 4 5 5 8 6 5 3 5 5 6
3 3 1 5 1 6 1 1 3 6 2 6 5 4 6 8 3 3 7 8 2 6 1 2 4 4 2 8 8 3 7 2 0
6 5 8 3 2 6 5 3 2 b 4 6 8 7 3 b 2 5 6 6 5 4 6 2 4 6 0 5 a 3 8 4 1
4 6 7 2 4 6 6 6 3 6 1 6 6 6 8 a 6 6 6 4 5 7 3 4 4 6 4 6 7 3 7 5 6
3 6 8 5 2 6 6 6 2 5 2 6 7 6 4 a 3 5 5 8 5 5 5 5 5 9 5 4 6 3 5 5 2
4 5 6 5 5 7 4 2 3 5 5 6 a 9 6 a 7 5 7 5 6 5 5 2 4 5 2 3 6 5 7 5 5
3 5 5 6 7 5 5 4 0 9 5 9 6 6 a 9 6 8 5 8 2 3 3 0 0 6 5 4 9 1 5 4 0
4 5 9 4 2 4 6 3 2 7 3 7 6 6 7 9 3 7 5 7 5 5 5 1 5 8 4 5 9 5 7 6 4
4 4 7 5 3 5 3 3 5 8 3 7 6 3 7 7 6 7 7 5 6 6 6 6 6 6 1 3 9 4 7 6 0
3 3 7 0 8 3 3 2 9 4 6 6 5 6 a 7 6 9 4 3 2 5 7 6 8 5 1 7 6 2 7 5 5
4 4 9 3 3 4 4 3 0 8 3 5 7 8 6 a 2 8 5 8 4 5 5 2 5 7 5 7 a 4 7 5 6
4 6 8 2 1 6 6 1 2 7 0 7 3 6 5 9 5 9 5 5 6 6 1 1 5 6 4 8 a 4 8 5 2
4 5 8 3 4 3 4 3 1 8 4 7 4 6 8 a 3 8 6 6 3 7 1 1 5 6 4 6 b 3 8 6 1
5 4 6 8 6 5 3 4 6 7 2 9 4 4 8 9 3 6 6 8 3 3 2 2 2 7 3 1 6 8 5 3 3
4 4 8 4 7 3 3 5 5 5 4 6 6 6 6 8 6 7 5 7 5 6 4 4 7 8 5 8 7 3 5 6 2
5 6 3 6 3 6 6 2 6 7 4 9 5 5 9 b 6 7 9 7 6 1 0 2 7 4 0 7 9 5 6 3 2
5 3 b 6 2 6 5 6 8 8 3 6 9 6 6 a 4 6 7 6 5 5 3 3 6 7 0 7 8 3 6 5 4
5 5 6 9 3 5 5 5 7 9 7 8 9 5 6 b 9 4 8 6 5 5 4 2 7 5 8 6 7 3 6 6 5
4 4 9 5 2 4 3 2 2 7 2 6 8 6 6 a 2 4 7 5 2 5 3 0 3 7 3 6 8 3 7 5 1
3 4 9 4 4 7 6 2 6 9 5 5 b 9 2 7 6 6 9 6 2 2 4 0 6 7 7 6 5 3 8 6 4
8 9 6 7 5 8 a 4 2 6 7 6 7 5 3 3 5 6 9 3 7 7 5 4 7 7 8 6 2 7 6 6 a
4 5 8 3 3 3 5 5 0 6 2 5 8 5 5 b 3 5 6 5 8 6 3 0 4 9 5 6 6 4 5 6 0
4 4 8 3 3 3 5 5 0 6 2 7 8 7 3 b 5 6 6 5 7 6 4 0 3 6 7 6 7 3 7 6 8""".split("\n")

CELLS_G = """7 3 7 0 4 5 3 4 5 3 5 5 6 7 5 7 6 5 5 6 5 8 6 a 7 5 3 7 7 6 4 4 9
3 2 5 1 6 3 6 3 4 3 5 5 5 5 6 3 4 4 4 4 3 7 7 6 5 5 4 5 6 5 1 4 7
7 8 6 2 3 6 b 2 1 5 9 6 4 8 2 6 2 4 a 5 3 7 5 6 6 4 2 5 8 2 1 2 5
9 9 2 5 6 4 6 5 6 6 6 4 6 4 6 4 1 3 7 5 5 7 5 5 4 8 6 5 6 5 6 7 6
7 5 4 3 4 7 6 3 8 6 6 7 6 6 a 9 3 5 7 4 5 7 6 9 5 4 6 9 7 3 b 7 6
9 3 8 1 7 9 4 5 4 6 6 8 6 8 4 9 9 6 5 b 3 8 a a 5 7 4 7 7 3 6 2 5
8 3 7 4 7 9 6 4 0 5 7 6 6 8 3 9 8 5 6 8 3 7 5 8 5 3 3 6 6 6 3 3 6
a 5 6 0 5 5 5 3 5 6 6 7 4 4 4 5 4 4 6 5 3 8 7 8 5 7 7 6 7 5 2 1 9
5 2 7 0 8 7 3 3 6 6 4 9 6 7 3 9 9 5 4 a 3 a 7 b 3 5 4 6 6 6 6 2 9
6 6 3 3 3 6 8 7 5 8 4 1 3 6 6 5 4 7 8 4 3 3 1 5 6 6 2 5 5 5 5 7 3
5 4 9 0 5 9 5 3 6 6 3 8 5 7 6 5 3 3 8 3 1 3 9 7 7 4 a 6 6 5 3 2 6
7 6 5 1 4 6 7 6 8 3 8 3 4 8 4 0 4 4 7 5 4 5 4 4 6 8 6 8 4 3 4 3 5
8 3 6 2 6 a 5 5 3 2 5 3 7 9 1 8 9 5 6 8 2 6 5 7 5 3 2 5 6 8 2 3 8
6 3 6 4 9 b 4 4 4 6 7 8 7 a 6 9 8 4 9 6 4 7 7 a 7 4 3 5 5 8 5 6 6
9 a 6 2 6 3 3 3 2 1 6 5 3 7 6 7 7 4 7 7 2 3 7 9 5 5 2 5 a 2 8 1 9
b 5 8 2 7 a 3 3 5 4 6 5 7 9 0 8 8 4 7 7 5 9 7 8 4 5 1 5 8 7 2 1 8
4 6 5 7 3 3 6 4 4 4 2 3 3 5 7 2 4 6 6 5 4 7 6 6 7 7 7 7 3 5 6 5 7
7 3 8 0 7 8 4 2 8 7 6 a 6 6 3 8 9 4 a 8 4 8 9 a 5 6 5 9 8 6 5 4 7
a 5 a 5 9 8 4 3 2 6 9 b 7 6 1 a 4 2 a b 3 8 9 8 7 8 4 7 b 6 5 2 a
6 2 9 2 6 5 3 5 6 7 6 8 5 6 3 7 9 4 5 7 2 8 6 7 5 4 4 6 6 7 6 2 6
5 3 7 3 5 5 4 5 5 5 6 8 5 8 4 b 5 7 4 8 5 6 9 9 6 7 4 5 6 7 5 3 6
5 5 5 4 8 4 5 5 5 5 6 8 6 7 7 5 3 6 6 4 6 3 7 6 4 5 8 7 6 5 7 4 6
8 9 5 0 9 5 6 5 4 6 8 a 5 6 4 5 5 4 b 7 5 8 7 b 6 a 6 8 a 4 4 1 5
8 5 4 3 8 5 7 5 1 4 8 5 7 7 4 8 8 8 5 8 5 6 7 6 4 4 2 4 8 6 4 3 9
9 7 6 3 8 7 7 5 3 5 7 8 6 8 5 9 8 5 8 9 4 6 7 a 5 6 5 4 9 6 5 4 b
8 9 5 1 9 4 6 6 3 6 9 7 7 6 4 6 4 6 a 6 5 4 5 8 4 8 3 7 9 5 6 4 8
a 9 7 0 5 2 6 5 4 7 8 9 6 6 2 5 0 7 8 7 5 8 7 7 5 9 5 7 9 4 4 3 8
3 8 3 5 0 1 7 4 4 7 1 9 0 0 4 9 1 4 8 3 1 7 1 7 3 0 8 1 1 2 5 4 3
8 9 4 3 7 2 8 3 2 6 b 9 6 5 4 5 1 4 b 5 8 5 8 6 5 8 6 7 b 1 7 5 8
a 7 6 3 5 6 5 4 4 9 b b 8 9 6 b 3 4 b 8 7 6 b 9 6 b 6 8 b 8 9 5 8
6 8 7 5 4 4 5 4 4 7 8 7 4 5 4 4 3 6 8 4 6 4 6 6 5 8 6 6 8 4 5 6 7
5 4 7 0 7 4 3 5 3 5 8 7 6 6 2 7 5 6 7 6 5 6 9 7 5 8 3 8 a 6 7 2 7
9 8 6 3 6 0 5 6 2 5 8 3 5 6 2 7 1 5 6 7 8 5 7 6 3 8 6 8 8 3 8 1 a
8 b 7 4 5 2 7 4 3 7 a 6 5 3 5 6 0 4 a 5 5 4 a 9 a b 8 8 b 2 4 4 7
9 7 4 5 7 2 3 4 4 7 8 7 5 6 7 6 0 5 6 2 6 2 6 5 5 7 7 6 8 3 5 4 9
5 7 6 7 3 7 7 2 4 8 7 b 5 4 5 7 2 2 b 3 6 5 5 9 8 7 a 7 7 5 6 5 6
5 4 5 2 7 5 5 5 4 8 7 b 4 4 4 7 2 3 5 7 7 7 9 8 7 a 7 7 7 3 6 1 5
9 8 6 0 8 7 7 5 5 8 6 7 3 2 0 3 6 3 8 7 3 7 7 7 5 7 4 8 9 1 4 1 6
6 a 4 3 7 4 6 3 4 8 a a 7 6 4 5 0 5 a 4 8 7 7 9 a 9 9 9 b 2 7 4 6
3 9 1 6 7 4 5 6 3 6 7 7 6 3 6 7 3 6 9 6 9 5 6 7 5 9 6 6 9 2 6 6 3
8 8 2 3 3 4 7 6 5 6 4 6 8 3 3 5 3 7 9 6 6 4 9 4 4 7 6 6 7 3 7 3 5
8 8 7 4 7 5 7 3 2 8 8 b 7 6 5 4 1 3 b 6 8 6 8 9 9 b 8 a a 4 6 3 5
8 9 7 2 7 2 4 4 4 8 8 8 5 5 2 5 4 2 5 5 6 5 9 9 2 b 7 7 b 2 5 5 6
6 8 7 6 b 7 4 2 5 9 7 a 6 1 4 4 6 9 6 6 6 9 8 6 7 6 8 a 2 5 5 5 7
a 9 6 1 6 1 3 4 5 5 7 7 4 2 1 7 5 0 4 4 2 3 8 8 3 7 6 7 b 2 6 3 a
9 6 5 3 7 5 6 6 6 7 7 a 9 6 7 a 5 6 9 6 6 7 7 7 7 8 7 a 8 a 7 8 7
8 8 6 3 2 1 5 5 2 6 7 8 5 8 6 7 0 3 7 5 6 5 6 7 7 6 6 6 9 6 6 7 5
8 a 4 1 6 4 7 5 2 6 5 6 6 5 2 4 2 4 6 4 5 3 6 7 6 7 5 5 9 5 6 5 5
7 6 8 0 7 3 4 3 3 9 8 a 3 4 1 4 2 3 7 5 2 7 7 7 7 7 7 7 a 3 8 1 6
a 6 8 5 8 8 5 4 4 7 9 9 8 8 4 6 3 8 8 a 7 6 9 9 6 6 5 7 b 8 4 7 a
6 9 7 2 6 3 5 3 1 7 9 8 4 4 2 4 0 4 a 6 6 7 7 7 7 8 7 6 9 2 4 3 7
6 6 6 3 6 4 7 6 3 7 8 a 5 5 1 8 3 6 7 5 5 7 6 6 6 7 8 7 9 4 6 1 7
a 8 6 5 8 6 8 5 5 3 7 7 5 b 8 7 7 6 9 5 5 6 5 4 4 4 3 6 8 6 3 2 a
7 8 6 2 5 3 5 4 5 9 9 b 5 4 3 5 2 7 8 6 7 8 8 8 8 9 8 7 9 3 7 5 8""".split("\n")

CELLS_H = """7 6 6 9 7 6 4 5 3 9 7 a 4 6 b 9
5 3 5 6 6 5 8 5 6 4 3 7 3 5 5 4
4 7 0 5 4 4 3 5 5 9 3 5 9 6 2 4
3 4 4 6 3 2 5 8 8 5 3 8 5 3 5 3
6 7 6 6 b 4 8 5 8 7 2 5 4 5 4 3
6 8 8 8 5 3 5 4 5 6 9 7 4 3 7 6
7 7 4 7 4 5 3 5 3 6 9 4 5 7 6 8
4 9 3 6 3 3 6 5 3 5 4 5 3 5 3 2
6 9 7 6 7 7 4 5 4 7 a 8 4 7 6 8
2 1 3 4 4 4 5 5 3 7 3 2 8 4 5 3
2 7 5 4 5 0 9 4 5 6 1 6 4 2 2 4
3 6 6 4 5 4 5 1 5 5 4 6 3 4 2 4
9 6 5 7 4 8 3 5 3 6 9 a 5 7 9 9
a 7 7 8 5 8 4 7 5 9 9 8 7 b 7 8
4 9 7 7 4 4 6 6 5 7 4 3 3 6 4 3
8 7 3 6 2 7 1 5 1 6 8 8 7 8 5 a
3 5 6 5 8 6 7 4 6 3 3 5 6 4 5 3
6 a 5 9 4 7 6 5 5 8 9 8 8 4 4 5
6 9 2 7 5 5 2 7 5 a 5 5 5 4 6 4
5 8 2 6 7 4 3 5 5 5 9 9 3 7 4 6
8 8 4 7 5 5 5 7 5 6 8 7 2 8 5 8
9 6 5 6 6 4 8 6 5 5 1 3 3 3 5 6
4 a 8 5 5 5 6 6 6 8 6 6 5 7 5 5
9 6 5 9 4 4 2 7 5 6 6 4 6 5 6 5
8 a 4 8 4 7 4 7 5 7 8 7 6 7 5 7
6 7 5 8 4 5 4 6 3 8 4 5 7 4 5 5
6 9 6 6 5 3 4 7 6 7 0 4 6 2 6 3
0 9 0 0 2 1 9 0 b 5 1 2 8 7 2 1
4 9 3 6 7 3 6 6 5 9 0 2 7 4 4 2
7 a 8 9 5 5 7 8 5 8 6 5 8 4 4 5
5 8 3 5 6 4 7 7 5 5 1 5 5 6 3 4
5 9 4 8 5 4 5 6 4 6 7 7 2 9 6 5
6 6 6 6 3 1 0 8 7 6 0 3 3 1 6 3
2 8 1 3 9 2 6 6 3 9 0 5 5 4 4 1
2 7 5 6 5 5 4 6 b 5 1 1 5 6 3 1
2 a 3 5 7 3 8 6 5 6 0 4 8 4 2 5
4 9 6 5 7 5 5 6 2 7 3 4 2 3 5 3
0 9 4 4 3 5 4 6 8 6 4 6 7 1 4 2
5 9 4 7 9 6 8 7 8 8 0 3 6 3 4 2
7 6 1 3 6 3 6 8 9 6 2 0 6 4 4 2
8 7 6 7 4 3 7 3 7 7 4 4 8 4 9 6
5 9 3 9 7 8 8 9 7 8 0 3 6 2 2 2
4 a 5 7 6 4 6 6 7 6 0 1 4 1 2 2
5 7 3 5 5 4 6 6 7 8 0 3 7 2 3 0
2 a 1 8 3 1 5 3 5 2 0 2 2 1 1 1
6 a 8 7 8 7 6 7 7 9 4 3 7 4 6 4
8 8 3 3 6 4 6 7 7 6 3 1 7 5 6 6
5 6 2 7 4 3 5 7 6 6 3 3 3 2 6 3
3 9 2 5 4 2 7 6 6 6 4 5 5 9 4 3
b 9 5 9 4 5 5 8 3 6 7 8 6 4 5 6
3 9 2 6 7 5 7 7 6 7 0 5 7 2 2 2
4 9 3 5 4 3 6 6 5 5 4 4 6 5 2 1
5 6 6 9 3 5 4 7 2 6 5 4 6 b 5 5
6 a 3 6 5 4 7 7 3 7 1 3 6 5 5 3""".split("\n")

BLOCKS = [CELLS_A, CELLS_B, CELLS_C, CELLS_D, CELLS_E, CELLS_F, CELLS_G, CELLS_H]

GREY = "#C0C0C0"
ORANGE = "#FFC800"
W, H = 3095, 740
CELL = 12.0


def parse_row(parts):
    # one gene: blocks joined, each forced to its width in case a line is off by a cell
    out = ""
    for text, width in zip(parts, BLOCK_WIDTHS):
        text = text.replace(" ", "")
        out += (text + text[-1] * width)[:width]
    return [int(c, 12) for c in out]


values = np.array([parse_row(parts) for parts in zip(*BLOCKS)])
n_rows, n_cols = values.shape

fig = plt.figure(figsize=(W / 100, H / 100), dpi=100)
ax = fig.add_axes([0, 0, 1, 1])
# x in columns, y in rows; the grid starts at pixel (0.5, 91.5)
x0, y0 = 0.5, 91.5
ax.set_xlim(-x0 / CELL, (W - x0) / CELL)
ax.set_ylim((H - y0) / CELL, -y0 / CELL)
ax.axis("off")

cmap = ListedColormap(LEVEL_COLORS)
norm = BoundaryNorm(np.arange(-0.5, 12.5), cmap.N)
ax.pcolormesh(np.arange(n_cols + 1), np.arange(n_rows + 1), values, cmap=cmap, norm=norm,
              edgecolors="none", antialiased=False, zorder=1)

# class colour band above the heat map
band_top, band_bottom = (3 - y0) / CELL, (66 - y0) / CELL
class_map = ListedColormap([GREY, ORANGE])
classes = np.array([[0 if i < N_GREY else 1 for i in range(n_cols)]])
ax.pcolormesh(np.arange(n_cols + 1), [band_top, band_bottom], classes, cmap=class_map,
              vmin=0, vmax=1, edgecolors="none", antialiased=False, zorder=1)

# grid lines: verticals run to the top edge, horizontals on through the gene labels
lw = 0.72
ax.vlines(np.arange(n_cols + 1), -y0 / CELL, n_rows, color="black", lw=lw, antialiased=False, zorder=2)
ax.hlines(np.arange(n_rows + 1), 0, (W - x0) / CELL, color="black", lw=lw, antialiased=False, zorder=2)

mono = "DejaVu Sans Mono"
for i, name in enumerate(SAMPLES):
    ax.text(i + 1 - 0.04, (65 - y0) / CELL, '"%s"' % name, rotation=90, rotation_mode="anchor",
            ha="left", va="baseline", family=mono, fontsize=8.1, color="black", zorder=3)

label_x = n_cols + 9.2 / CELL
for k, gene in enumerate(GENES):
    ax.text(label_x, k + 1, gene, ha="left", va="baseline", family=mono, fontsize=8.3,
            color="black", zorder=3)
ax.text(label_x, (77 - y0) / CELL, "SampleName", ha="left", va="baseline", family=mono,
        fontsize=10.6, color="black", zorder=3)

fig.savefig("out.png", dpi=100)
plt.close(fig)
